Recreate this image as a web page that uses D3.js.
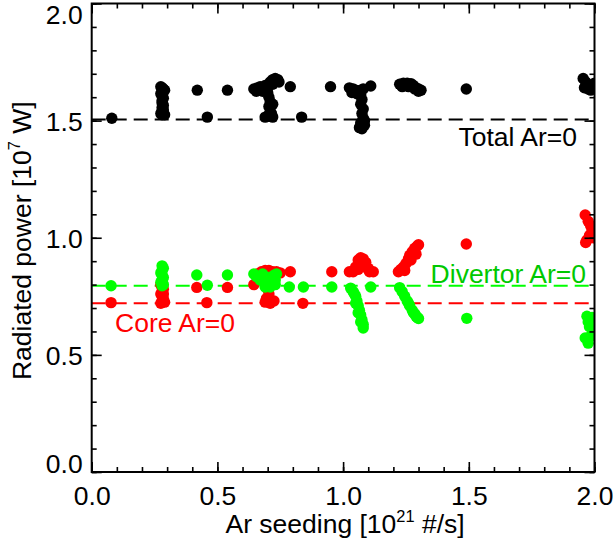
<!DOCTYPE html>
<html>
<head>
<meta charset="utf-8">
<script src="https://cdn.jsdelivr.net/npm/d3@7"></script>
<style>
  html, body { margin: 0; padding: 0; background: #fff; }
  svg { display: block; }
  text { font-family: "Liberation Sans", Arial, Helvetica, sans-serif; }
</style>
</head>
<body>
<svg id="chart" width="613" height="542"></svg>
<script>
// ---------- data ----------
const xTicks = [0.0, 0.5, 1.0, 1.5, 2.0];
const yTicks = [0.0, 0.5, 1.0, 1.5, 2.0];

const totalX = [0.08, 0.275,0.28,0.285,0.28,0.275,0.28,0.285,0.28,0.28,0.285,0.28,0.285,0.28,0.275,0.28,0.29,0.29,
  0.42, 0.46, 0.54,
  0.72,0.73,0.74,0.745,0.71,0.72, 0.645,0.66,0.67,0.68,0.69,0.70,0.655,0.68,
  0.70,0.705,0.71,0.705,0.71,0.70,0.69,0.72,0.715,0.72,
  0.79, 0.835, 0.95,
  1.025,1.04,1.05,1.06,1.07,1.08,1.035,1.055,1.11,
  1.07,1.075,1.07,1.08,1.075,1.08,1.07,1.065,1.075,1.085,1.085,
  1.225,1.24,1.255,1.27,1.28,1.29,1.30,1.31,1.235,1.26,1.285,1.30,
  1.49,
  1.955,1.965,1.97,1.96,1.975,1.99,2.0,1.985];
const totalY = [1.51, 1.645,1.64,1.635,1.625,1.615,1.605,1.595,1.585,1.575,1.565,1.555,1.545,1.54,1.53,1.525,1.525,1.63,
  1.63, 1.515, 1.63,
  1.675,1.68,1.675,1.665,1.665,1.655, 1.635,1.64,1.645,1.64,1.65,1.645,1.625,1.625,
  1.62,1.60,1.58,1.56,1.54,1.52,1.515,1.515,1.53,1.57,
  1.645, 1.515, 1.645,
  1.64,1.635,1.63,1.625,1.63,1.635,1.62,1.615,1.648,
  1.61,1.59,1.57,1.55,1.53,1.51,1.49,1.47,1.465,1.50,1.48,
  1.655,1.66,1.66,1.658,1.65,1.64,1.635,1.63,1.645,1.645,1.635,1.625,
  1.635,
  1.68,1.665,1.65,1.64,1.635,1.645,1.66,1.63];

const coreX = [0.077,
  0.275,0.28,0.285,0.28,0.275,0.28,0.285,0.28,0.275,0.29,0.285,
  0.418, 0.458, 0.54,
  0.645,0.66,0.675,0.69,0.705,0.72,0.735,0.75,0.68,0.71,0.70,0.705,0.695,0.71,0.725,0.69,
  0.79, 0.84, 0.955,
  1.025,1.04,1.05,1.06,1.07,1.08,1.09,1.10,1.105,1.12,1.06,1.085,1.075,
  1.22,1.23,1.24,1.25,1.26,1.265,1.275,1.285,1.295,1.30,1.28,1.29,1.27,1.245,
  1.49,
  1.963,1.975,1.985,1.99,1.98,1.97,1.965,1.995,2.0];
const coreY = [0.723,
  0.80,0.79,0.78,0.77,0.76,0.75,0.74,0.73,0.72,0.725,0.76,
  0.788, 0.723, 0.788,
  0.80,0.845,0.855,0.86,0.86,0.855,0.855,0.85,0.83,0.80,0.78,0.76,0.74,0.72,0.73,0.725,
  0.855, 0.72, 0.855,
  0.855,0.855,0.875,0.905,0.915,0.91,0.895,0.87,0.855,0.855,0.865,0.875,0.88,
  0.855,0.865,0.875,0.89,0.91,0.925,0.94,0.955,0.965,0.97,0.94,0.93,0.905,0.86,
  0.973,
  1.097,1.07,1.05,1.03,1.01,0.99,0.98,1.0,1.04];

const divX = [0.077,
  0.28,0.285,0.28,0.275,0.28,0.285,0.28,0.275,0.28,0.285,
  0.418, 0.46, 0.54,
  0.645,0.655,0.67,0.685,0.70,0.72,0.73,0.735,0.725,0.70,0.69,0.71,0.73,0.68,
  0.786, 0.842, 0.955,
  1.03,1.04,1.05,1.055,1.06,1.065,1.07,1.075,1.08,1.08,1.07,1.06,1.05,1.045,
  1.11,
  1.225,1.235,1.245,1.255,1.265,1.275,1.285,1.295,1.30,1.26,1.28,1.29,
  1.492,
  1.963,1.975,1.985,1.98,1.975,1.985,1.99,1.97,2.0];
const divY = [0.795,
  0.88,0.87,0.86,0.85,0.84,0.83,0.82,0.81,0.795,0.80,
  0.841, 0.797, 0.841,
  0.845,0.835,0.82,0.81,0.80,0.805,0.82,0.845,0.84,0.83,0.79,0.79,0.80,0.845,
  0.79, 0.79, 0.79,
  0.785,0.77,0.75,0.73,0.71,0.69,0.67,0.65,0.63,0.615,0.64,0.68,0.72,0.76,
  0.79,
  0.787,0.77,0.75,0.73,0.71,0.69,0.675,0.66,0.655,0.72,0.68,0.665,
  0.656,
  0.572,0.55,0.58,0.62,0.64,0.655,0.66,0.665,0.60];

const refLevels = [1.505, 0.795, 0.72];          // Total, Divertor, Core (Ar=0)
const refNames  = ["Total Ar=0", "Divertor Ar=0", "Core Ar=0"];

// ---------- layout ----------
const svg = d3.select("#chart");
const L = 91.7, R = 594.5, T = 3.5, B = 472;
const x = d3.scaleLinear().domain([0, 2]).range([L, R]);
const y = d3.scaleLinear().domain([0, 2]).range([B, T]);
const FS = 26.5;

svg.append("defs").append("clipPath").attr("id", "clip")
  .append("rect").attr("x", L).attr("y", T).attr("width", R - L).attr("height", B - T);

// reference dashed lines
const lineCols = ["#000000", "#00ff00", "#ff0000"];
const plot = svg.append("g").attr("clip-path", "url(#clip)");
plot.selectAll("line.ref").data(refLevels).join("line")
  .attr("class", "ref")
  .attr("x1", x(0)).attr("x2", x(2))
  .attr("y1", d => y(d)).attr("y2", d => y(d))
  .attr("stroke", (d, i) => lineCols[i])
  .attr("stroke-width", 2)
  .attr("stroke-dasharray", "14,7");

function dots(xs, ys, col) {
  plot.append("g").selectAll("circle").data(xs.map((v, i) => [v, ys[i]])).join("circle")
    .attr("cx", d => x(d[0])).attr("cy", d => y(d[1])).attr("r", 5.7).attr("fill", col);
}
dots(totalX, totalY, "#000000");
dots(coreX, coreY, "#ff0000");
dots(divX, divY, "#00ff00");

// axes (ticks inward on all sides)
const minor = d3.range(0, 2.0001, 0.1).map(v => +v.toFixed(1));
function mk(axisFn, scale, pos, labels, majors) {
  const gMin = svg.append("g").attr("transform", pos)
    .call(axisFn(scale).tickValues(minor).tickSize(-5).tickFormat(""));
  const gMaj = svg.append("g").attr("transform", pos)
    .call(axisFn(scale).tickValues(majors).tickSize(-10).tickPadding(labels ? 19 : 0)
      .tickFormat(labels ? d3.format(".1f") : ""));
  [gMin, gMaj].forEach(g => {
    g.select(".domain").remove();
    g.selectAll(".tick line").attr("stroke", "#000").attr("stroke-width", 1.6);
  });
  return gMaj;
}
const gx = mk(d3.axisBottom, x, `translate(0,${B})`, true, xTicks);
gx.selectAll(".tick text").attr("font-size", FS).attr("fill", "#000").attr("dy", "0.71em").attr("y", 14);
mk(d3.axisTop, x, `translate(0,${T})`, false, xTicks);
const gy = mk(d3.axisLeft, y, `translate(${L},0)`, true, yTicks);
gy.selectAll(".tick text").attr("font-size", FS).attr("fill", "#000").attr("x", -9)
  .attr("dy", d => d === 0 ? "0.0em" : (d === 2 ? "0.74em" : "0.36em"));
mk(d3.axisRight, y, `translate(${R},0)`, false, yTicks);

svg.append("rect").attr("x", L).attr("y", T).attr("width", R - L).attr("height", B - T)
  .attr("fill", "none").attr("stroke", "#000").attr("stroke-width", 2);

// axis titles
const xt = svg.append("text").attr("x", (L + R) / 2 + 2).attr("y", 533)
  .attr("text-anchor", "middle").attr("font-size", FS).attr("fill", "#000");
xt.append("tspan").text("Ar seeding [10");
xt.append("tspan").attr("font-size", FS * 0.62).attr("dy", -11).text("21");
xt.append("tspan").attr("dy", 11).text(" #/s]");

const yt = svg.append("text").attr("transform", `translate(31,${(T + B) / 2 + 3}) rotate(-90)`)
  .attr("text-anchor", "middle").attr("font-size", FS).attr("fill", "#000");
yt.append("tspan").text("Radiated power [10");
yt.append("tspan").attr("font-size", FS * 0.62).attr("dy", -11).text("7");
yt.append("tspan").attr("dy", 11).text(" W]");

// reference labels
svg.append("text").attr("x", 577).attr("y", 146).attr("text-anchor", "end")
  .attr("font-size", FS).attr("fill", "#000").text(refNames[0]);
svg.append("text").attr("x", 586).attr("y", 283).attr("text-anchor", "end")
  .attr("font-size", FS).attr("fill", "#00c800").text(refNames[1]);
svg.append("text").attr("x", 115).attr("y", 332).attr("text-anchor", "start")
  .attr("font-size", FS).attr("fill", "#ff0000").text(refNames[2]);
</script>
</body>
</html>
